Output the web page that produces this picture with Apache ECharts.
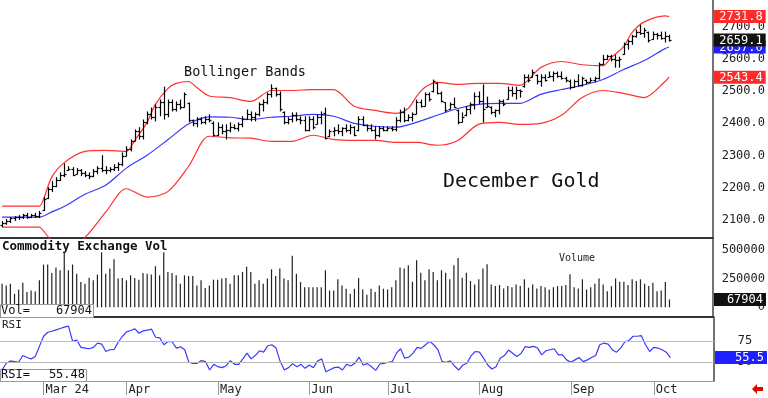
<!doctype html>
<html lang="en">
<head>
<meta charset="UTF-8">
<script src="https://cdn.jsdelivr.net/npm/echarts@6/dist/echarts.min.js"></script>
<style>
html, body { margin: 0; padding: 0; background: #fff; }
#main { width: 768px; height: 398px; }
</style>
</head>
<body>
<div id="main"></div>
<script>
// trading days shown on the chart (Feb 15 - Oct 7, 2024)
var tradingDays = [
    ['2024-02', [15,16,20,21,22,23,26,27,28,29]],
    ['2024-03', [1,4,5,6,7,8,11,12,13,14,15,18,19,20,21,22,25,26,27,28]],
    ['2024-04', [1,2,3,4,5,8,9,10,11,12,15,16,17,18,19,22,23,24,25,26,29,30]],
    ['2024-05', [1,2,3,6,7,8,9,10,13,14,15,16,17,20,21,22,23,24,28,29,30,31]],
    ['2024-06', [3,4,5,6,7,10,11,12,13,14,17,18,20,21,24,25,26,27,28]],
    ['2024-07', [1,2,3,5,8,9,10,11,12,15,16,17,18,19,22,23,24,25,26,29,30,31]],
    ['2024-08', [1,2,5,6,7,8,9,12,13,14,15,16,19,20,21,22,23,26,27,28,29,30]],
    ['2024-09', [3,4,5,6,9,10,11,12,13,16,17,18,19,20,23,24,25,26,27,30]],
    ['2024-10', [1,2,3,4,7]]
];
var monthLabels = {'2024-03': 'Mar 24', '2024-04': 'Apr', '2024-05': 'May', '2024-06': 'Jun',
    '2024-07': 'Jul', '2024-08': 'Aug', '2024-09': 'Sep', '2024-10': 'Oct'};
var emptySlots = 10;

var opens = [2085,2090,2098,2105,2108,2110,2114,2110,2114,2112,
    2130,2168,2195,2205,2225,2240,2255,2258,2242,2255,
    2245,2240,2238,2252,2262,2255,2255,2258,2265,2275,
    2300,2320,2345,2375,2360,2405,2430,2420,2450,2465,
    2430,2465,2445,2460,2452,2462,2410,2400,2412,2405,
    2415,2400,2365,2390,2375,2380,2390,2385,2398,2415,
    2430,2420,2428,2460,2465,2490,2510,2490,2435,2405,
    2415,2425,2415,2410,2380,2415,2398,2420,2432,2360,
    2375,2380,2375,2385,2380,2390,2378,2415,2395,2385,
    2380,2365,2385,2380,2385,2383,2410,2435,2410,2420,
    2430,2465,2455,2490,2500,2525,2495,2465,2445,2460,
    2440,2405,2425,2445,2460,2485,2470,2450,2450,2435,
    2440,2470,2475,2505,2495,2505,2515,2545,2545,2550,
    2530,2545,2545,2548,2555,2548,2540,2530,2512,2530,
    2520,2535,2528,2535,2540,2585,2600,2610,2600,2598,
    2615,2645,2655,2670,2685,2680,2685,2662,2678,2675,
    2665,2670];
var highs = [2097,2103,2109,2112,2115,2119,2122,2119,2122,2128,
    2171,2202,2221,2233,2248,2276,2267,2264,2261,2258,
    2252,2248,2258,2267,2301,2267,2264,2273,2279,2310,
    2329,2350,2381,2388,2412,2437,2449,2459,2474,2514,
    2474,2474,2468,2474,2496,2465,2412,2419,2419,2422,
    2428,2406,2403,2397,2397,2403,2397,2403,2422,2443,
    2437,2434,2465,2474,2496,2521,2511,2499,2437,2419,
    2434,2434,2422,2422,2422,2422,2428,2437,2449,2381,
    2388,2397,2388,2397,2397,2391,2422,2422,2397,2397,
    2391,2391,2391,2391,2391,2419,2443,2449,2428,2434,
    2474,2474,2496,2496,2536,2527,2499,2465,2465,2480,
    2443,2434,2453,2465,2496,2499,2521,2483,2453,2443,
    2474,2474,2514,2514,2514,2505,2552,2552,2567,2552,
    2552,2552,2561,2561,2561,2561,2545,2536,2536,2552,
    2545,2536,2542,2545,2589,2613,2613,2613,2613,2607,
    2651,2660,2675,2691,2706,2697,2685,2685,2681,2685,
    2685,2675];
var lows = [2078,2085,2091,2097,2100,2103,2103,2106,2106,2106,
    2128,2165,2187,2202,2221,2233,2252,2236,2242,2236,
    2233,2227,2233,2242,2248,2242,2248,2252,2252,2267,
    2298,2313,2344,2350,2350,2397,2412,2406,2422,2412,
    2419,2437,2437,2443,2449,2403,2391,2388,2397,2397,
    2403,2360,2360,2366,2350,2372,2381,2375,2388,2412,
    2406,2406,2422,2437,2459,2480,2483,2437,2397,2397,
    2403,2406,2397,2375,2375,2381,2397,2397,2350,2357,
    2360,2366,2360,2372,2366,2360,2375,2391,2375,2375,
    2350,2357,2375,2375,2375,2375,2403,2403,2406,2406,
    2428,2449,2453,2468,2496,2490,2465,2434,2443,2449,
    2397,2403,2422,2428,2443,2459,2403,2449,2428,2419,
    2428,2453,2474,2483,2474,2480,2511,2527,2542,2521,
    2514,2530,2542,2530,2542,2536,2527,2505,2511,2514,
    2514,2521,2527,2527,2536,2582,2598,2592,2573,2573,
    2613,2629,2644,2666,2675,2666,2651,2660,2660,2660,
    2651,2654];
var closes = [2090,2098,2105,2108,2110,2114,2110,2114,2112,2122,
    2165,2195,2205,2225,2240,2243,2258,2240,2255,2245,
    2240,2238,2252,2262,2255,2255,2258,2265,2275,2300,
    2320,2345,2375,2360,2405,2430,2420,2450,2465,2430,
    2465,2445,2460,2450,2490,2410,2400,2412,2405,2415,
    2410,2365,2390,2375,2380,2390,2385,2398,2415,2430,
    2420,2428,2460,2465,2490,2510,2490,2445,2405,2415,
    2425,2415,2410,2380,2415,2390,2420,2430,2355,2375,
    2380,2375,2385,2380,2390,2365,2415,2395,2385,2380,
    2365,2385,2380,2385,2383,2410,2435,2410,2420,2430,
    2465,2455,2490,2475,2530,2495,2470,2440,2460,2450,
    2405,2420,2445,2460,2485,2470,2445,2455,2435,2440,
    2470,2460,2505,2495,2505,2500,2545,2535,2560,2530,
    2545,2535,2548,2555,2548,2540,2535,2512,2530,2520,
    2540,2528,2535,2540,2585,2600,2610,2600,2598,2600,
    2645,2655,2670,2685,2680,2690,2660,2678,2675,2665,
    2670,2659.1];

// Bollinger bands at sample days
var upperBand = [['2024-02-15',2143],['2024-02-23',2143],['2024-02-29',2143],['2024-03-01',2165],
    ['2024-03-05',2233],['2024-03-08',2278],['2024-03-15',2313],['2024-03-22',2316],['2024-04-01',2313],
    ['2024-04-03',2347],['2024-04-08',2403],['2024-04-10',2459],['2024-04-15',2508],['2024-04-17',2524],
    ['2024-04-22',2530],['2024-04-24',2511],['2024-04-29',2485],['2024-05-06',2480],['2024-05-13',2468],
    ['2024-05-20',2502],['2024-05-28',2502],['2024-06-04',2505],['2024-06-11',2505],['2024-06-18',2453],
    ['2024-06-26',2440],['2024-07-03',2431],['2024-07-09',2446],['2024-07-11',2483],['2024-07-15',2511],
    ['2024-07-18',2527],['2024-07-25',2521],['2024-08-01',2524],['2024-08-08',2524],['2024-08-15',2518],
    ['2024-08-22',2573],['2024-08-29',2592],['2024-09-06',2582],['2024-09-13',2579],['2024-09-17',2604],
    ['2024-09-20',2638],['2024-09-24',2681],['2024-09-27',2715],['2024-10-04',2734],['2024-10-07',2731.8]];
var middleBand = [['2024-02-15',2109],['2024-02-29',2109],['2024-03-05',2125],['2024-03-08',2142],
    ['2024-03-15',2180],['2024-03-22',2208],['2024-04-01',2261],['2024-04-08',2301],['2024-04-15',2349],
    ['2024-04-22',2398],['2024-04-29',2420],['2024-05-06',2419],['2024-05-13',2412],['2024-05-20',2419],
    ['2024-05-28',2422],['2024-06-04',2428],['2024-06-11',2422],['2024-06-18',2400],['2024-06-26',2391],
    ['2024-07-03',2388],['2024-07-11',2403],['2024-07-18',2425],['2024-07-25',2446],['2024-08-01',2459],
    ['2024-08-08',2462],['2024-08-15',2462],['2024-08-22',2490],['2024-08-29',2505],['2024-09-06',2518],
    ['2024-09-13',2536],['2024-09-20',2567],['2024-09-27',2595],['2024-10-04',2632],['2024-10-07',2637.0]];
var lowerBand = [['2024-02-15',2078],['2024-02-29',2078],['2024-03-01',2066],['2024-03-05',2035],
    ['2024-03-08',2006],['2024-03-15',2046],['2024-03-22',2124],['2024-04-01',2197],['2024-04-08',2171],
    ['2024-04-15',2188],['2024-04-22',2266],['2024-04-29',2360],['2024-05-06',2355],['2024-05-13',2354],
    ['2024-05-20',2344],['2024-05-28',2344],['2024-06-04',2363],['2024-06-11',2350],['2024-06-18',2347],
    ['2024-06-26',2347],['2024-07-03',2341],['2024-07-11',2341],['2024-07-18',2332],['2024-07-25',2347],
    ['2024-08-01',2397],['2024-08-08',2403],['2024-08-15',2397],['2024-08-22',2400],['2024-08-29',2425],
    ['2024-09-06',2480],['2024-09-13',2502],['2024-09-20',2493],['2024-09-27',2480],['2024-10-04',2530],
    ['2024-10-07',2543.4]];

var volumes = [205000,190000,205000,117000,155000,213000,132000,146000,137000,234000,
    371000,371000,298000,345000,322000,477000,322000,371000,292000,219000,
    205000,257000,234000,284000,477000,292000,336000,418000,249000,254000,
    234000,278000,254000,240000,298000,292000,284000,357000,278000,477000,
    307000,298000,278000,205000,278000,272000,272000,190000,234000,167000,
    190000,240000,240000,249000,254000,205000,278000,278000,307000,351000,
    307000,205000,234000,205000,249000,330000,272000,336000,249000,234000,
    447000,292000,219000,175000,175000,175000,175000,175000,322000,146000,
    146000,243000,190000,161000,117000,161000,254000,155000,108000,161000,
    132000,190000,161000,155000,175000,234000,345000,336000,365000,222000,
    409000,301000,234000,330000,307000,234000,322000,301000,243000,365000,
    427000,257000,301000,228000,199000,243000,336000,374000,199000,184000,
    193000,164000,184000,175000,199000,184000,243000,170000,199000,164000,
    184000,175000,155000,175000,184000,184000,193000,287000,175000,164000,
    243000,155000,175000,205000,251000,199000,140000,184000,251000,222000,
    222000,193000,243000,228000,243000,205000,184000,213000,140000,146000,
    219000,67904];

var rsi = [40.9,48.8,51.6,50.8,50.0,57.9,55.6,54.0,56.7,68.7,
    80.6,85.3,86.5,88.1,89.7,91.3,92.5,74.6,76.2,67.5,
    66.7,65.9,67.5,72.6,71.4,62.7,64.7,65.1,73.8,80.6,
    85.7,87.3,89.3,84.1,86.9,87.7,88.9,79.4,78.6,70.6,
    74.6,73.8,66.7,68.3,64.7,50.0,48.8,48.8,52.0,50.8,
    40.9,47.6,44.8,43.7,46.0,52.0,47.6,47.6,54.0,60.7,
    54.0,57.9,63.5,61.9,69.4,70.6,66.7,50.8,40.9,43.7,
    48.4,44.8,47.6,42.9,46.8,43.7,51.6,54.0,38.9,41.3,
    43.7,44.4,40.9,47.6,45.6,48.8,56.0,46.8,48.4,44.8,
    40.5,48.0,48.8,50.0,50.8,60.7,65.9,54.8,56.0,60.7,
    67.5,66.3,70.6,74.6,70.6,64.7,50.8,50.0,51.6,45.6,
    40.9,46.8,48.8,57.9,62.7,61.9,54.8,46.8,42.1,44.8,
    54.8,57.9,64.3,60.7,56.7,60.3,68.3,67.5,68.7,66.7,
    58.7,63.5,64.7,65.9,58.7,58.7,52.8,50.0,52.8,55.6,
    50.8,52.8,55.6,57.9,70.6,72.6,71.4,64.7,61.9,66.7,
    73.8,75.4,80.6,80.6,81.3,70.6,62.7,67.5,66.7,64.7,
    61.9,55.48];

var priceTicks = [2100, 2200, 2300, 2400, 2500, 2600, 2700];
var volumeTicks = [0, 250000, 500000];
var rsiTicks = [50, 75];

var mono = 'DejaVu Sans Mono';

// categories
var dates = [];
var axisText = {};
tradingDays.forEach(function (m) {
    m[1].forEach(function (day, k) {
        var s = m[0] + '-' + (day < 10 ? '0' : '') + day;
        dates.push(s);
        if (k === 0 && monthLabels[m[0]]) axisText[s] = monthLabels[m[0]];
    });
});
var categories = dates.slice();
for (var p = 0; p < emptySlots; p++) categories.push('pad' + p);

var ohlc = dates.map(function (d, i) {
    return [i, opens[i], highs[i], lows[i], closes[i]];
});

var last = dates.length - 1;

function isMonthStart(index, value) {
    return !!axisText[value];
}

function renderOHLC(params, api) {
    var i = api.value(0);
    var x = Math.round(api.coord([i, 0])[0]) + 0.5;
    var yo = Math.round(api.coord([i, api.value(1)])[1]) + 0.5;
    var yh = api.coord([i, api.value(2)])[1];
    var yl = api.coord([i, api.value(3)])[1];
    var yc = Math.round(api.coord([i, api.value(4)])[1]) + 0.5;
    var st = {stroke: '#000', lineWidth: 1.2};
    return {
        type: 'group',
        children: [
            {type: 'line', shape: {x1: x, y1: yh, x2: x, y2: yl}, style: st},
            {type: 'line', shape: {x1: x - 2, y1: yo, x2: x, y2: yo}, style: st},
            {type: 'line', shape: {x1: x, y1: yc, x2: x + 2, y2: yc}, style: st}
        ]
    };
}

// coloured value box at the right end of a level
function tag(value, text, bg) {
    return {
        yAxis: value,
        lineStyle: {color: 'rgba(0,0,0,0)', width: 0},
        label: {
            show: true, position: 'end', distance: 1,
            formatter: '{t|' + text + '}',
            rich: {t: {width: 47, align: 'right', backgroundColor: bg, color: '#fff',
                fontFamily: mono, fontSize: 12, lineHeight: 12, padding: [1, 3, 0, 2]}}
        }
    };
}

function xAxisFor(gridIndex, showLabels) {
    return {
        type: 'category', gridIndex: gridIndex, data: categories, boundaryGap: true,
        axisLine: {show: true, onZero: false,
            lineStyle: showLabels ? {color: '#999', width: 1} : {color: '#333', width: 2}},
        axisTick: {show: showLabels, interval: isMonthStart, alignWithLabel: true, length: 14,
            lineStyle: {color: '#999'}},
        axisLabel: {show: showLabels, interval: isMonthStart, align: 'left', margin: 3,
            padding: [0, 0, 0, 2], fontFamily: mono, fontSize: 12, color: '#222',
            formatter: function (v) { return axisText[v] || ''; }},
        splitLine: {show: false}
    };
}

var myChart = echarts.init(document.getElementById('main'));

var option = {
    animation: false,
    backgroundColor: '#fff',
    grid: [
        {left: 0, right: 54, top: 0, height: 238},
        {left: 0, right: 54, top: 238, height: 79},
        {left: 0, right: 54, top: 317, height: 64}
    ],
    xAxis: [xAxisFor(0, false), xAxisFor(1, false), xAxisFor(2, true)],
    yAxis: [
        {gridIndex: 0, position: 'right', min: 2044, max: 2783,
            axisLine: {show: true, lineStyle: {color: '#444', width: 1.5}},
            axisTick: {show: false}, splitLine: {show: false},
            axisLabel: {customValues: priceTicks, margin: 9, fontFamily: mono, fontSize: 12, color: '#222',
                formatter: function (v) { return v.toFixed(1); }}},
        {gridIndex: 1, position: 'right', min: -84000, max: 601500,
            axisLine: {show: true, lineStyle: {color: '#444', width: 1.5}},
            axisTick: {show: false}, splitLine: {show: false},
            axisLabel: {customValues: volumeTicks, align: 'right', margin: 52, fontFamily: mono,
                fontSize: 12, color: '#222', formatter: function (v) { return String(v); }}},
        {gridIndex: 2, position: 'right', min: 28, max: 103.2,
            axisLine: {show: true, lineStyle: {color: '#444', width: 1.5}},
            axisTick: {show: false}, splitLine: {show: false},
            axisLabel: {customValues: rsiTicks, align: 'center', margin: 31, fontFamily: mono,
                fontSize: 12, color: '#222'}}
    ],
    series: [
        {type: 'line', name: 'upper', xAxisIndex: 0, yAxisIndex: 0, data: upperBand, smooth: 0.3,
            showSymbol: false, lineStyle: {color: '#ff3030', width: 1.2}, z: 2,
            markLine: {silent: true, symbol: 'none', data: [tag(upperBand[upperBand.length - 1][1], '2731.8', '#ff2a2a')]}},
        {type: 'line', name: 'lower', xAxisIndex: 0, yAxisIndex: 0, data: lowerBand, smooth: 0.3,
            showSymbol: false, lineStyle: {color: '#ff3030', width: 1.2}, z: 2,
            markLine: {silent: true, symbol: 'none', data: [tag(lowerBand[lowerBand.length - 1][1], '2543.4', '#ff2a2a')]}},
        {type: 'line', name: 'middle', xAxisIndex: 0, yAxisIndex: 0, data: middleBand, smooth: 0.3,
            showSymbol: false, lineStyle: {color: '#3a3aff', width: 1.2}, z: 3,
            markLine: {silent: true, symbol: 'none', data: [tag(middleBand[middleBand.length - 1][1], '2637.0', '#1f1fff')]}},
        {type: 'custom', name: 'price', xAxisIndex: 0, yAxisIndex: 0, data: ohlc,
            encode: {x: 0, y: [1, 2, 3, 4]}, renderItem: renderOHLC, z: 4,
            markLine: {silent: true, symbol: 'none', data: [tag(closes[last], closes[last].toFixed(1), '#111')]}},
        {type: 'bar', name: 'volume', xAxisIndex: 1, yAxisIndex: 1, data: volumes, barWidth: 1.2,
            itemStyle: {color: '#222'},
            markLine: {silent: true, symbol: 'none', data: [tag(volumes[last], String(volumes[last]), '#111')]}},
        {type: 'line', name: 'rsi', xAxisIndex: 2, yAxisIndex: 2, data: rsi, showSymbol: false,
            lineStyle: {color: '#3a3aff', width: 1.2}, z: 3,
            markLine: {silent: true, symbol: 'none', data: [
                {yAxis: 75, lineStyle: {color: '#f4a9a9', width: 1, type: 'solid'}, label: {show: false}},
                {yAxis: 50, lineStyle: {color: '#b8b8b8', width: 1, type: 'solid'}, label: {show: false}},
                tag(rsi[last], rsi[last].toFixed(1), '#1f1fff')
            ]}}
    ],
    graphic: [
        {type: 'text', left: 184, top: 65, style: {text: 'Bollinger Bands', font: '13.5px "DejaVu Sans Mono"', fill: '#111'}},
        {type: 'text', left: 443, top: 172, style: {text: 'December Gold', font: '20px "DejaVu Sans Mono"', fill: '#111'}},
        {type: 'text', left: 2, top: 240, style: {text: 'Commodity Exchange Vol', font: 'bold 12.5px "DejaVu Sans Mono"', fill: '#111'}},
        {type: 'text', left: 559, top: 253, style: {text: 'Volume', font: '10px "DejaVu Sans Mono"', fill: '#222'}},
        {type: 'text', left: 2, top: 320, style: {text: 'RSI', font: '11px "DejaVu Sans Mono"', fill: '#222'}},
        {type: 'rect', left: 0, top: 304, z: 10, shape: {width: 93, height: 13},
            style: {fill: '#fff', stroke: '#999', lineWidth: 1}},
        {type: 'text', left: 1, top: 305, z: 11, style: {text: 'Vol=', font: '12px "DejaVu Sans Mono"', fill: '#111'}},
        {type: 'text', right: 768 - 92, top: 305, z: 11, style: {text: String(volumes[last]), font: '12px "DejaVu Sans Mono"', fill: '#111'}},
        {type: 'rect', left: 0, top: 369, z: 10, shape: {width: 86, height: 12},
            style: {fill: '#fff', stroke: '#999', lineWidth: 1}},
        {type: 'text', left: 1, top: 369, z: 11, style: {text: 'RSI=', font: '12px "DejaVu Sans Mono"', fill: '#111'}},
        {type: 'text', right: 768 - 85, top: 369, z: 11, style: {text: rsi[last].toFixed(2), font: '12px "DejaVu Sans Mono"', fill: '#111'}},
        {type: 'polygon', z: 10, shape: {points: [[752, 389], [757, 384], [757, 387], [763, 387], [763, 391], [757, 391], [757, 394]]},
            style: {fill: '#e00'}}
    ]
};

myChart.setOption(option);
</script>
</body>
</html>
